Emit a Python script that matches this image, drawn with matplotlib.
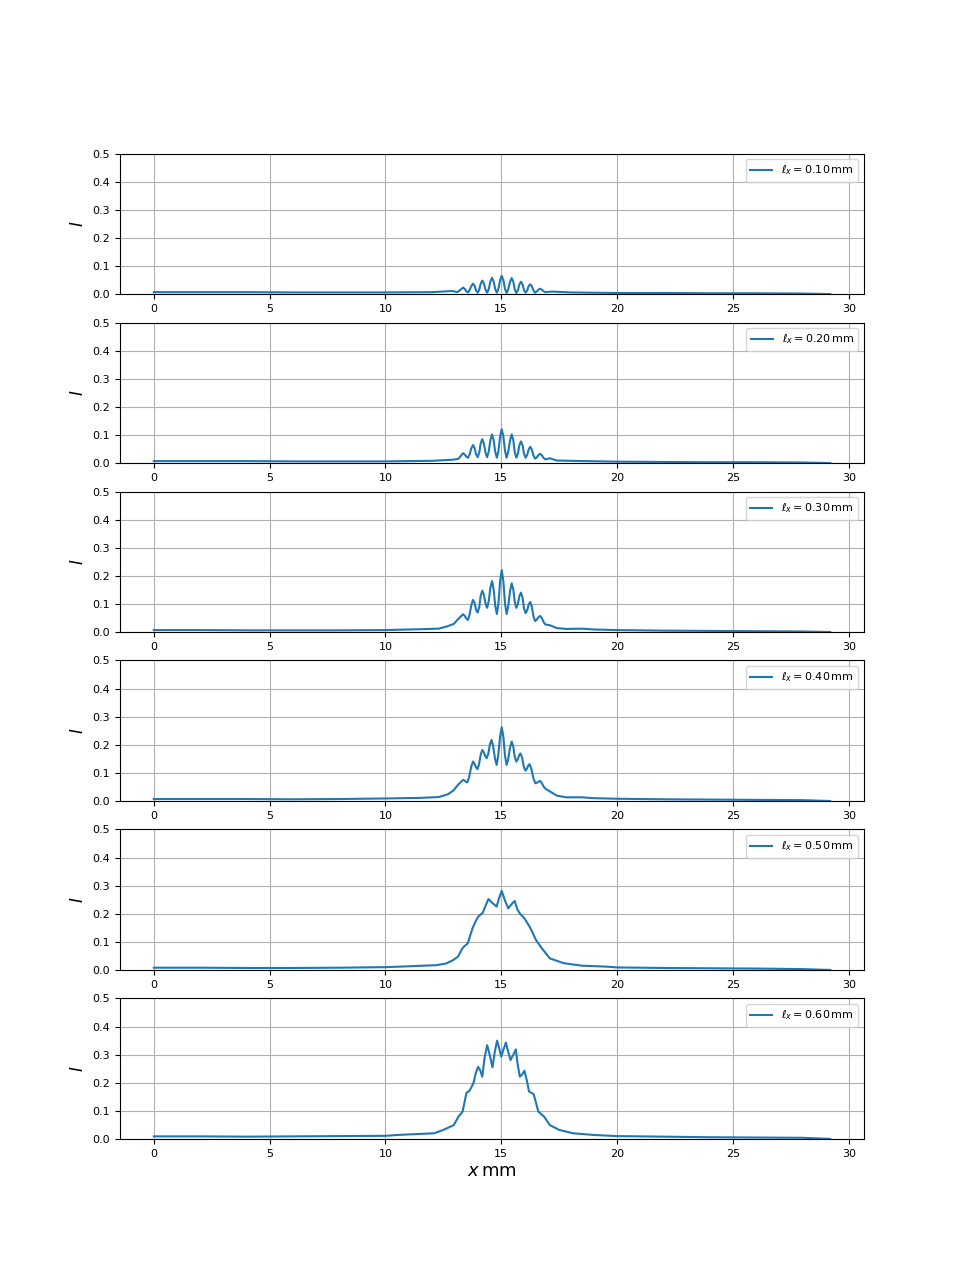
import matplotlib
matplotlib.use('Agg')
import matplotlib.pyplot as plt

# coherence lengths (mm) for each panel
widths = [0.10, 0.20, 0.30, 0.40, 0.50, 0.60]

# fringe positions shared by the first three panels (mm)
x_fringe = [13.35, 13.42, 13.49, 13.56, 13.63, 13.71, 13.78, 13.85, 13.91, 13.98, 14.05, 14.11,
            14.18, 14.25, 14.32, 14.39, 14.46, 14.53, 14.6, 14.67, 14.74, 14.81, 14.88, 14.95,
            15.02, 15.09, 15.16, 15.23, 15.30, 15.38, 15.45, 15.52, 15.58, 15.65, 15.72, 15.78,
            15.85, 15.92, 15.98, 16.05, 16.12, 16.18, 16.25, 16.32, 16.39, 16.46, 16.53, 16.61,
            16.68, 16.75, 16.83, 16.9]

# intensity profiles (x in mm)
x_010 = [0.0, 2.0, 4.0, 6.0, 8.0, 10.0, 12.0, 12.9, 13.1, 13.2] + x_fringe + \
        [17.2, 18.0, 20.0, 22.0, 24.0, 26.0, 28.0, 29.2]
I_010 = [0.008, 0.008, 0.008, 0.007, 0.007, 0.007, 0.008, 0.012, 0.008, 0.014,
         0.024, 0.020, 0.011, 0.007, 0.015, 0.030, 0.038, 0.030, 0.014, 0.006, 0.017, 0.038,
         0.049, 0.038, 0.017, 0.006, 0.019, 0.046, 0.059, 0.046, 0.019, 0.006, 0.021, 0.051,
         0.066, 0.051, 0.020, 0.005, 0.018, 0.045, 0.058, 0.045, 0.018, 0.005, 0.015, 0.035,
         0.045, 0.035, 0.016, 0.006, 0.014, 0.029, 0.036, 0.029, 0.014, 0.006, 0.010, 0.017,
         0.020, 0.017, 0.011, 0.008,
         0.010, 0.007, 0.005, 0.005, 0.004, 0.004, 0.003, 0.001]

x_020 = [0.0, 2.0, 4.0, 6.0, 8.0, 10.0, 12.0, 12.9, 13.15] + x_fringe + \
        [17.1, 17.4, 18.0, 20.0, 22.0, 24.0, 26.0, 28.0, 29.2]
I_020 = [0.008, 0.008, 0.008, 0.007, 0.007, 0.007, 0.009, 0.013, 0.016,
         0.036, 0.032, 0.024, 0.020, 0.031, 0.054, 0.065, 0.054, 0.033, 0.022, 0.038, 0.070,
         0.086, 0.070, 0.038, 0.022, 0.042, 0.083, 0.103, 0.082, 0.041, 0.020, 0.045, 0.096,
         0.121, 0.096, 0.045, 0.020, 0.041, 0.082, 0.103, 0.082, 0.041, 0.020, 0.035, 0.064,
         0.078, 0.064, 0.035, 0.020, 0.030, 0.049, 0.059, 0.049, 0.028, 0.017, 0.021, 0.030,
         0.034, 0.029, 0.019, 0.014,
         0.018, 0.010, 0.009, 0.006, 0.005, 0.004, 0.004, 0.003, 0.001]

x_030 = [0.0, 2.0, 4.0, 6.0, 8.0, 10.0, 11.5, 12.3, 12.7, 12.95, 13.15] + x_fringe + \
        [17.1, 17.4, 17.8, 18.5, 19.0, 20.0, 22.0, 24.0, 26.0, 28.0, 29.2]
I_030 = [0.008, 0.008, 0.007, 0.007, 0.007, 0.008, 0.011, 0.013, 0.022, 0.030, 0.048,
         0.064, 0.059, 0.049, 0.044, 0.062, 0.097, 0.115, 0.104, 0.081, 0.070, 0.090, 0.129,
         0.148, 0.133, 0.102, 0.087, 0.111, 0.158, 0.182, 0.153, 0.094, 0.065, 0.104, 0.182,
         0.221, 0.182, 0.104, 0.065, 0.092, 0.147, 0.174, 0.152, 0.109, 0.087, 0.101, 0.128,
         0.141, 0.123, 0.086, 0.068, 0.078, 0.098, 0.108, 0.091, 0.057, 0.040, 0.045, 0.054,
         0.058, 0.051, 0.036, 0.028,
         0.025, 0.015, 0.012, 0.013, 0.010, 0.008, 0.006, 0.005, 0.004, 0.003, 0.001]

x_040 = [0.0, 2.0, 4.0, 6.0, 8.0, 10.0, 11.5, 12.3, 12.7, 12.93, 13.15,
         13.35, 13.41, 13.47, 13.53, 13.61, 13.70, 13.78, 13.84, 13.91, 13.97, 14.04, 14.11,
         14.18, 14.24, 14.31, 14.37, 14.44, 14.51, 14.58, 14.65, 14.73, 14.8, 14.87, 14.95,
         15.02, 15.09, 15.16, 15.23, 15.30, 15.38, 15.45, 15.52, 15.58, 15.65, 15.71, 15.77,
         15.83, 15.90, 15.97, 16.04, 16.10, 16.16, 16.22, 16.30, 16.39, 16.47, 16.54, 16.61,
         16.68, 16.75, 16.83, 16.9,
         17.1, 17.4, 17.8, 18.5, 19.0, 20.0, 22.0, 24.0, 26.0, 28.0, 29.2]
I_040 = [0.008, 0.008, 0.008, 0.007, 0.008, 0.010, 0.012, 0.015, 0.025, 0.038, 0.060,
         0.076, 0.074, 0.069, 0.067, 0.085, 0.122, 0.141, 0.134, 0.121, 0.114, 0.131, 0.165,
         0.182, 0.175, 0.160, 0.153, 0.169, 0.202, 0.218, 0.196, 0.151, 0.129, 0.163, 0.230,
         0.263, 0.230, 0.163, 0.129, 0.150, 0.191, 0.212, 0.194, 0.159, 0.141, 0.148, 0.163,
         0.170, 0.155, 0.124, 0.109, 0.115, 0.126, 0.132, 0.115, 0.081, 0.064, 0.066, 0.070,
         0.072, 0.065, 0.052, 0.045,
         0.035, 0.020, 0.014, 0.014, 0.011, 0.009, 0.007, 0.006, 0.005, 0.004, 0.001]

x_050 = [0.0, 2.0, 4.0, 6.0, 8.0, 10.0, 11.0, 12.2, 12.62, 12.9, 13.13, 13.3, 13.4, 13.55,
         13.76, 13.9, 14.0, 14.2, 14.3, 14.45, 14.6, 14.8, 14.9, 15.02, 15.15, 15.3, 15.45,
         15.58, 15.7, 15.8, 16.0, 16.15, 16.3, 16.5, 16.75, 17.1, 17.7, 18.5, 19.5, 20.0,
         22.0, 24.0, 26.0, 28.0, 29.2]
I_050 = [0.009, 0.009, 0.008, 0.008, 0.009, 0.011, 0.014, 0.018, 0.024, 0.035, 0.048, 0.075,
         0.085, 0.095, 0.149, 0.175, 0.190, 0.204, 0.225, 0.253, 0.240, 0.226, 0.255, 0.282,
         0.250, 0.220, 0.235, 0.246, 0.215, 0.202, 0.184, 0.165, 0.143, 0.107, 0.078, 0.042,
         0.025, 0.016, 0.013, 0.010, 0.008, 0.007, 0.006, 0.004, 0.001]

x_060 = [0.0, 2.0, 4.0, 6.0, 8.0, 10.0, 10.5, 12.1, 12.5, 12.95, 13.15, 13.33, 13.5, 13.63,
         13.8, 13.9, 14.0, 14.09, 14.18, 14.28, 14.39, 14.5, 14.62, 14.72, 14.82, 14.92, 15.0,
         15.1, 15.2, 15.3, 15.4, 15.52, 15.63, 15.7, 15.8, 15.9, 16.0, 16.1, 16.2, 16.4, 16.6,
         16.85, 17.1, 17.5, 18.1, 19.0, 20.0, 22.0, 24.0, 26.0, 28.0, 29.2]
I_060 = [0.010, 0.010, 0.009, 0.010, 0.011, 0.012, 0.015, 0.021, 0.033, 0.050, 0.080, 0.098,
         0.165, 0.172, 0.199, 0.235, 0.257, 0.245, 0.222, 0.290, 0.334, 0.300, 0.255, 0.310,
         0.350, 0.320, 0.293, 0.320, 0.343, 0.310, 0.281, 0.300, 0.319, 0.270, 0.222, 0.230,
         0.243, 0.210, 0.169, 0.160, 0.098, 0.080, 0.050, 0.033, 0.021, 0.015, 0.011, 0.009,
         0.007, 0.006, 0.005, 0.001]

xs = [x_010, x_020, x_030, x_040, x_050, x_060]
Is = [I_010, I_020, I_030, I_040, I_050, I_060]

fig, axes = plt.subplots(6, 1, figsize=(9.6, 12.8))
for ax, w, x, I in zip(axes, widths, xs, Is):
    ax.plot(x, I, label=rf'$\ell_x = {w:.2f}\,\mathrm{{mm}}$')
    ax.set_ylim(0, 0.5)
    ax.set_ylabel(r'$I$', fontsize=12)
    ax.tick_params(labelsize=8)
    ax.grid(True)
    ax.legend(loc='upper right', fontsize=8)
axes[-1].set_xlabel(r'$x\,\mathrm{mm}$', fontsize=13, labelpad=2)

plt.savefig('out.png', dpi=100)
